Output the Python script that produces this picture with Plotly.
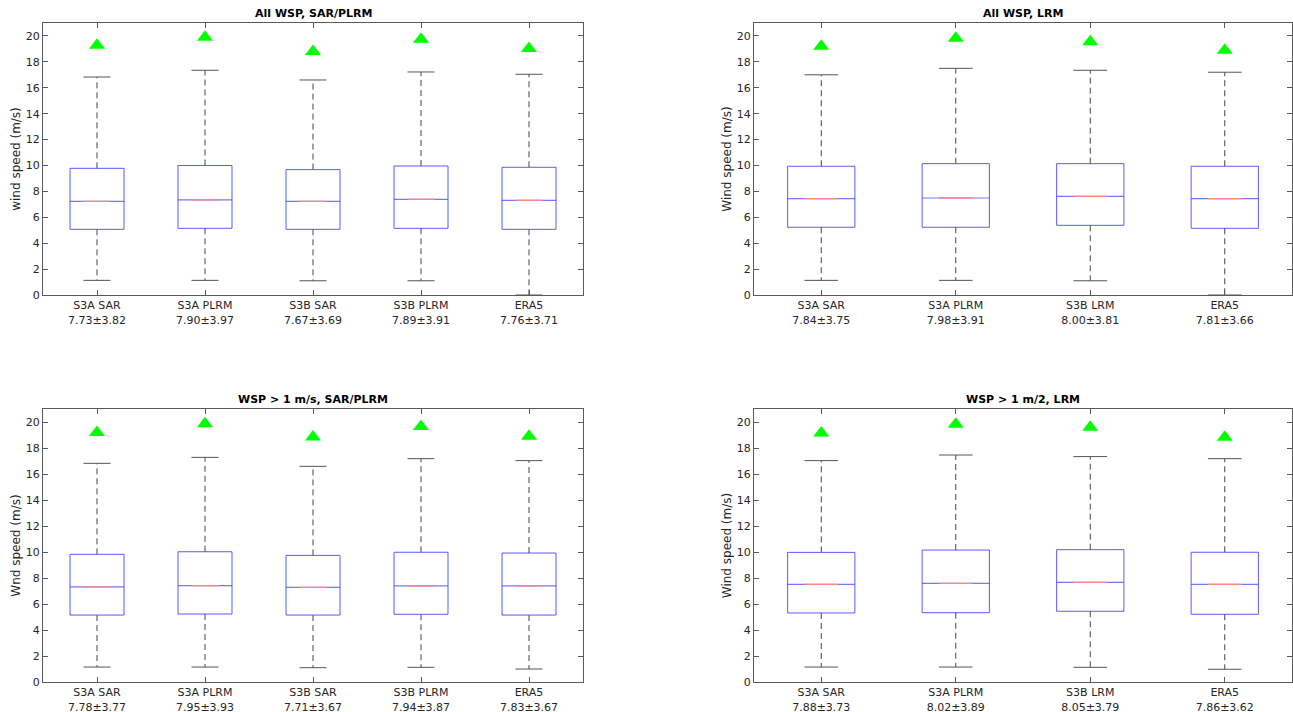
import plotly.graph_objects as go

# ---------------- data ----------------
cats_sar = ["S3A SAR", "S3A PLRM", "S3B SAR", "S3B PLRM", "ERA5"]
cats_lrm = ["S3A SAR", "S3A PLRM", "S3B LRM", "ERA5"]

# Panel 1: All WSP, SAR/PLRM
p1_mean = [7.73, 7.90, 7.67, 7.89, 7.76]
p1_std = [3.82, 3.97, 3.69, 3.91, 3.71]
p1_lw = [1.13, 1.13, 1.10, 1.10, 0.0]
p1_q1 = [5.07, 5.15, 5.07, 5.15, 5.07]
p1_med = [7.23, 7.34, 7.23, 7.39, 7.31]
p1_q3 = [9.78, 10.0, 9.68, 9.96, 9.86]
p1_uw = [16.83, 17.35, 16.60, 17.22, 17.04]
p1_tri = [19.28, 19.90, 18.80, 19.75, 19.03]

# Panel 2: All WSP, LRM
p2_mean = [7.84, 7.98, 8.00, 7.81]
p2_std = [3.75, 3.91, 3.81, 3.66]
p2_lw = [1.13, 1.13, 1.10, 0.0]
p2_q1 = [5.23, 5.23, 5.38, 5.15]
p2_med = [7.44, 7.49, 7.62, 7.44]
p2_q3 = [9.94, 10.14, 10.14, 9.94]
p2_uw = [17.0, 17.5, 17.35, 17.2]
p2_tri = [19.2, 19.83, 19.56, 18.9]

# Panel 3: WSP > 1 m/s, SAR/PLRM
p3_mean = [7.78, 7.95, 7.71, 7.94, 7.83]
p3_std = [3.77, 3.93, 3.67, 3.87, 3.67]
p3_lw = [1.15, 1.15, 1.10, 1.13, 1.0]
p3_q1 = [5.15, 5.23, 5.15, 5.21, 5.15]
p3_med = [7.31, 7.41, 7.28, 7.39, 7.39]
p3_q3 = [9.82, 10.02, 9.74, 9.98, 9.92]
p3_uw = [16.82, 17.28, 16.59, 17.18, 17.03]
p3_tri = [19.2, 19.87, 18.85, 19.65, 18.9]

# Panel 4: WSP > 1 m/2, LRM
p4_mean = [7.88, 8.02, 8.05, 7.86]
p4_std = [3.73, 3.89, 3.79, 3.62]
p4_lw = [1.15, 1.15, 1.13, 0.98]
p4_q1 = [5.31, 5.33, 5.44, 5.21]
p4_med = [7.51, 7.59, 7.67, 7.51]
p4_q3 = [9.97, 10.15, 10.18, 9.98]
p4_uw = [17.03, 17.46, 17.34, 17.18]
p4_tri = [19.15, 19.82, 19.6, 18.82]

titles = ["All WSP, SAR/PLRM", "All WSP, LRM", "WSP > 1 m/s, SAR/PLRM", "WSP > 1 m/2, LRM"]
ytitles = ["wind speed (m/s)", "Wind speed (m/s)", "Wnd speed (m/s)", "Wind speed (m/s)"]
yticks = list(range(0, 21, 2))

panels = [
    (cats_sar, p1_mean, p1_std, p1_lw, p1_q1, p1_med, p1_q3, p1_uw, p1_tri),
    (cats_lrm, p2_mean, p2_std, p2_lw, p2_q1, p2_med, p2_q3, p2_uw, p2_tri),
    (cats_sar, p3_mean, p3_std, p3_lw, p3_q1, p3_med, p3_q3, p3_uw, p3_tri),
    (cats_lrm, p4_mean, p4_std, p4_lw, p4_q1, p4_med, p4_q3, p4_uw, p4_tri),
]

# ---------------- layout geometry ----------------
W, H = 1293, 712
xdoms = [[43 / W, 583 / W], [754 / W, 1292 / W], [43 / W, 583 / W], [754 / W, 1292 / W]]
ydoms = [[1 - 295 / H, 1 - 23 / H], [1 - 295 / H, 1 - 23 / H],
         [1 - 682 / H, 1 - 409 / H], [1 - 682 / H, 1 - 409 / H]]

FONT = "DejaVu Sans"
AX = "#5a5a5a"
BW = 0.25   # half box width
CW = 0.125  # half cap width

fig = go.Figure()
layout = dict(width=W, height=H, margin=dict(l=0, r=0, t=0, b=0),
              plot_bgcolor="white", paper_bgcolor="white", showlegend=False,
              font=dict(family=FONT, size=11, color="#262626"))
annotations = []

for k, (cats, mean, std, lw, q1, med, q3, uw, tri) in enumerate(panels):
    xa = "x" if k == 0 else f"x{k+1}"
    ya = "y" if k == 0 else f"y{k+1}"
    n = len(cats)
    pos = list(range(1, n + 1))

    wx, wy, bx, by, mbx, mby, mrx, mry, cx, cy = [], [], [], [], [], [], [], [], [], []
    for i, p in enumerate(pos):
        wx += [p, p, None, p, p, None]
        wy += [q3[i], uw[i], None, q1[i], lw[i], None]
        bx += [p - BW, p + BW, p + BW, p - BW, p - BW, None]
        by += [q1[i], q1[i], q3[i], q3[i], q1[i], None]
        mbx += [p - BW, p + BW, None]
        mby += [med[i], med[i], None]
        mrx += [p - CW, p + CW, None]
        mry += [med[i], med[i], None]
        cx += [p - CW, p + CW, None, p - CW, p + CW, None]
        cy += [uw[i], uw[i], None, lw[i], lw[i], None]

    common = dict(xaxis=xa, yaxis=ya, hoverinfo="skip", mode="lines")
    fig.add_trace(go.Scatter(x=wx, y=wy, line=dict(color="#444444", width=1, dash="6px,4px"), **common))
    fig.add_trace(go.Scatter(x=bx, y=by, line=dict(color="rgba(50,50,255,0.8)", width=1), **common))
    fig.add_trace(go.Scatter(x=mbx, y=mby, line=dict(color="rgba(60,60,255,0.7)", width=1.2), **common))
    fig.add_trace(go.Scatter(x=mrx, y=mry, line=dict(color="#ff8585", width=1.3), **common))
    fig.add_trace(go.Scatter(x=cx, y=cy, line=dict(color="#555555", width=1), **common))
    fig.add_trace(go.Scatter(x=pos, y=tri, mode="markers", xaxis=xa, yaxis=ya, hoverinfo="skip",
                             marker=dict(symbol="triangle-up", size=14, color="#00ff00", line=dict(width=0))))

    ticktext = [f"{c}<br>{m:.2f}±{s:.2f}" for c, m, s in zip(cats, mean, std)]
    xkey = "xaxis" if k == 0 else f"xaxis{k+1}"
    ykey = "yaxis" if k == 0 else f"yaxis{k+1}"
    layout[xkey] = dict(domain=xdoms[k], anchor=ya, range=[0.5, n + 0.5],
                        tickmode="array", tickvals=pos, ticktext=ticktext,
                        ticks="inside", ticklen=5, tickcolor=AX, tickwidth=1,
                        showline=True, linecolor=AX, linewidth=1, mirror="ticks",
                        showgrid=False, zeroline=False, automargin=False,
                        tickfont=dict(family=FONT, size=11, color="#262626"))
    layout[ykey] = dict(domain=ydoms[k], anchor=xa, range=[0, 21],
                        tickmode="array", tickvals=yticks,
                        ticks="inside", ticklen=5, tickcolor=AX, tickwidth=1,
                        showline=True, linecolor=AX, linewidth=1, mirror="ticks",
                        showgrid=False, zeroline=False, automargin=False,
                        tickfont=dict(family=FONT, size=11, color="#262626"),
                        title=dict(text=ytitles[k], font=dict(family=FONT, size=12, color="#262626"),
                                   standoff=2))
    annotations.append(dict(text=f"<b>{titles[k]}</b>", x=(xdoms[k][0] + xdoms[k][1]) / 2,
                            y=ydoms[k][1], xref="paper", yref="paper", xanchor="center",
                            yanchor="bottom", yshift=1, showarrow=False,
                            font=dict(family=FONT, size=11, color="black")))

layout["annotations"] = annotations
fig.update_layout(**layout)
fig.write_html("out.html", config={"displayModeBar": False},
               post_script="document.body.style.margin='0';document.body.style.overflow='hidden';")
